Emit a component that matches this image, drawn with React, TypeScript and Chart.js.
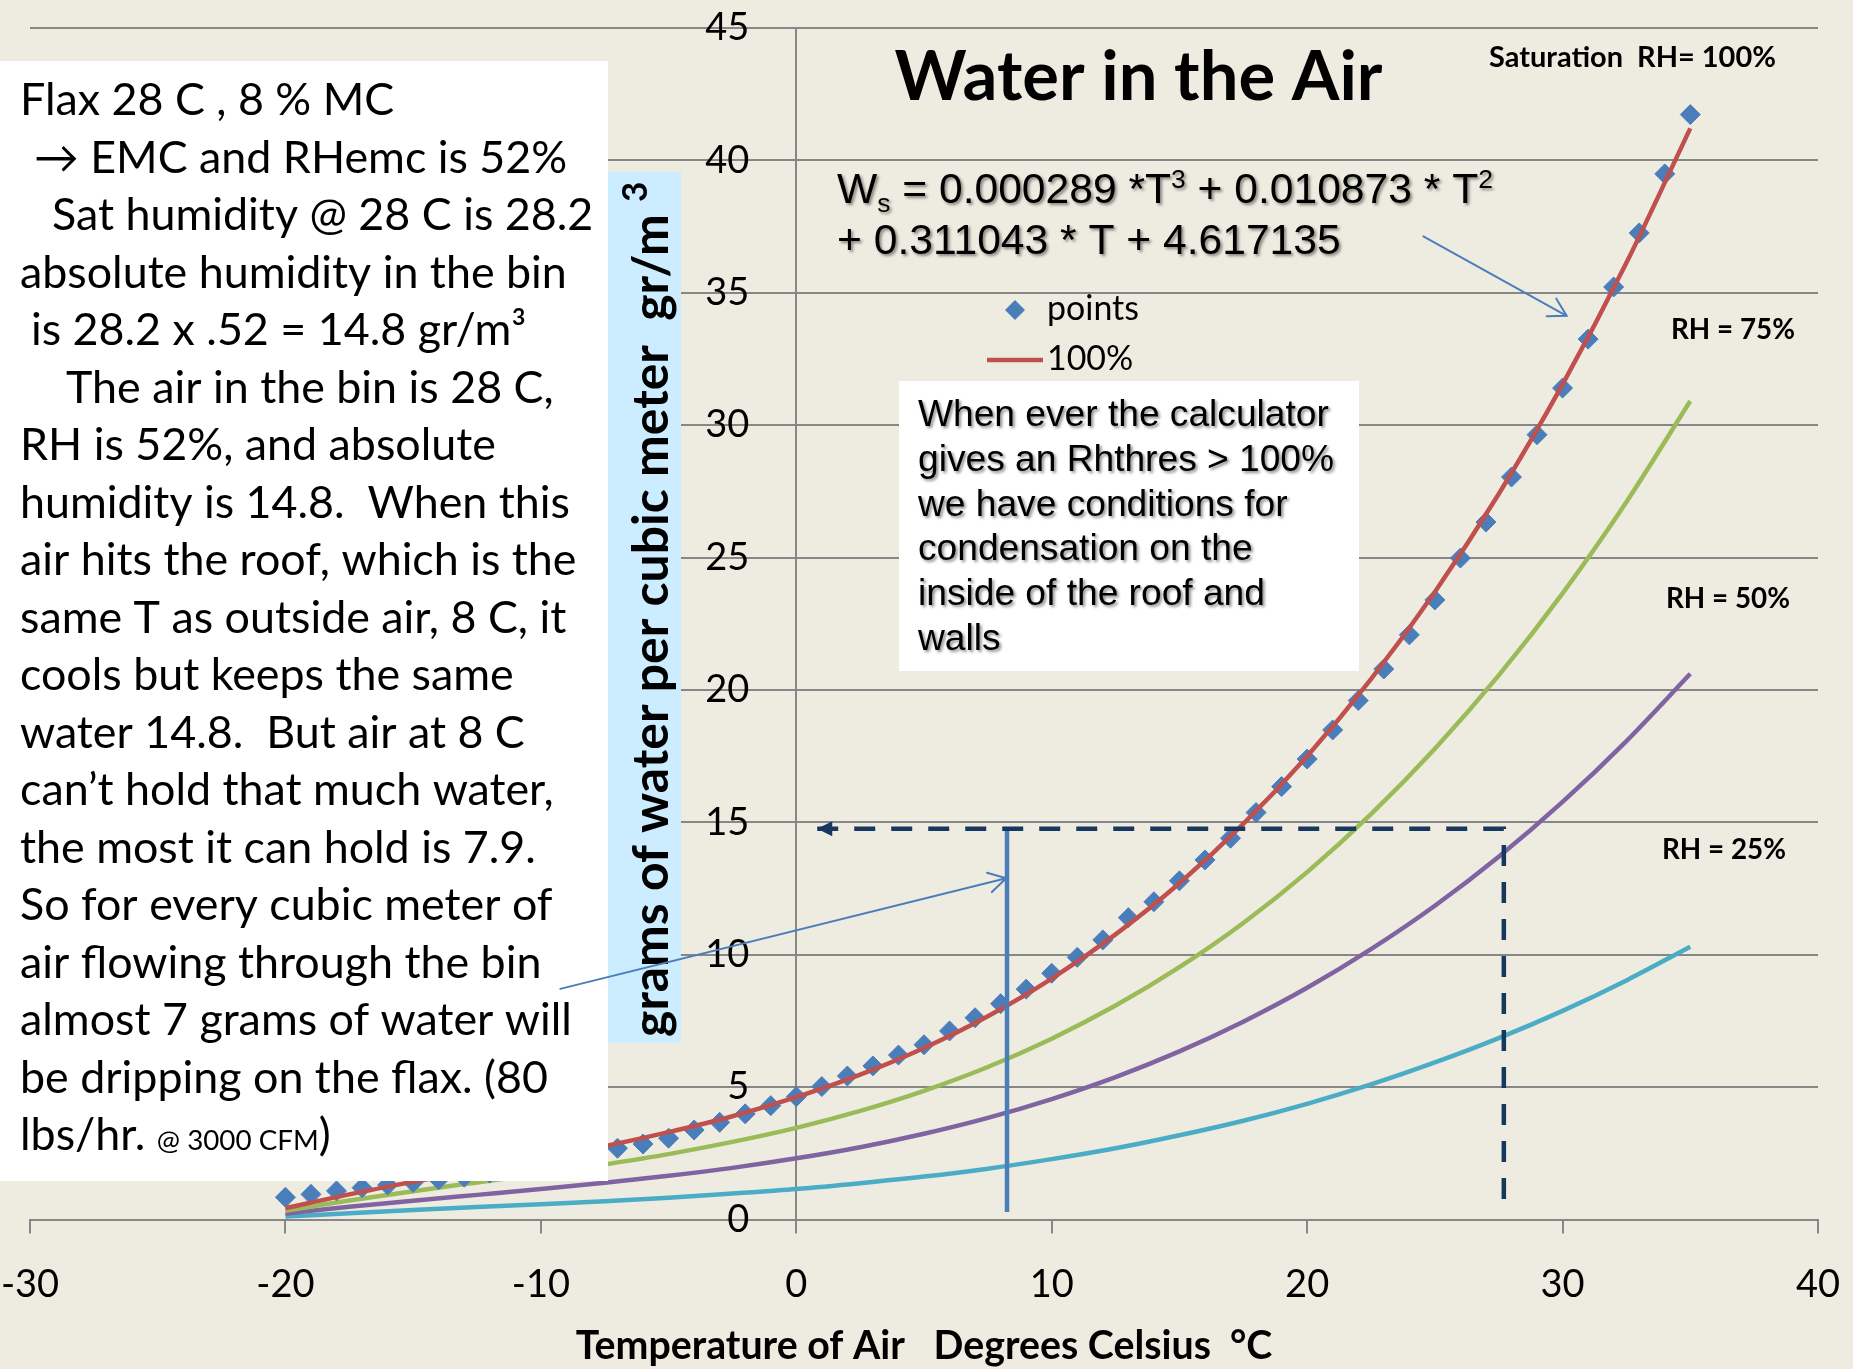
import React, { useEffect, useRef } from "react";
import { Chart, registerables } from "chart.js";

Chart.register(...registerables);

// ---------------- data ----------------
const pointTemps = [
  -20, -19, -18, -17, -16, -15, -14, -13, -12, -11, -10, -9, -8, -7, -6, -5, -4, -3, -2, -1,
  0, 1, 2, 3, 4, 5, 6, 7, 8, 9, 10, 11, 12, 13, 14, 15, 16, 17, 18, 19,
  20, 21, 22, 23, 24, 25, 26, 27, 28, 29, 30, 31, 32, 33, 34, 35,
];
const pointValues = [
  0.84, 0.95, 1.08, 1.2, 1.3, 1.4, 1.5, 1.6, 1.75, 1.9, 2.05, 2.25, 2.45, 2.69, 2.85, 3.07, 3.38, 3.67, 3.99, 4.3,
  4.64, 5.02, 5.42, 5.8, 6.21, 6.6, 7.12, 7.62, 8.15, 8.7, 9.3, 9.9, 10.56, 11.4, 12.0, 12.79, 13.58, 14.4, 15.37, 16.35,
  17.39, 18.49, 19.6, 20.79, 22.08, 23.4, 24.98, 26.34, 28.04, 29.64, 31.4, 33.25, 35.22, 37.26, 39.49, 41.73,
];

const curveTemps = [
  -20, -17.5, -15, -12.5, -10, -7.5, -5, -2.5, 0, 2.5, 5, 7.5, 10, 12.5, 15, 17.5, 20, 22.5, 25, 27.5, 30, 32.5, 35,
];
const rh100 = [
  0.43, 0.95, 1.42, 1.86, 2.31, 2.77, 3.3, 3.9, 4.62, 5.47, 6.48, 7.68, 9.1, 10.77, 12.7, 14.94, 17.5, 20.41, 23.7, 27.4, 31.54, 36.13, 41.21,
];
const rh75 = [
  0.33, 0.72, 1.07, 1.4, 1.73, 2.08, 2.47, 2.93, 3.46, 4.1, 4.86, 5.76, 6.83, 8.08, 9.53, 11.2, 13.12, 15.31, 17.78, 20.55, 23.65, 27.1, 30.91,
];
const rh50 = [
  0.22, 0.48, 0.71, 0.93, 1.15, 1.39, 1.65, 1.95, 2.31, 2.73, 3.24, 3.84, 4.55, 5.38, 6.35, 7.47, 8.75, 10.21, 11.85, 13.7, 15.77, 18.07, 20.61,
];
const rh25 = [
  0.11, 0.24, 0.36, 0.47, 0.58, 0.69, 0.82, 0.98, 1.15, 1.37, 1.62, 1.92, 2.28, 2.69, 3.18, 3.73, 4.37, 5.1, 5.93, 6.85, 7.88, 9.03, 10.3,
];

// x / y axis ranges and steps
const xRange = [-30, 40];
const xStep = 10;
const yRange = [0, 45];
const yStep = 5;

// reference lines (data coordinates)
const dropLineT = [8.25, 8.25];
const dropLineW = [14.76, 0.28];
const dashT = [0.82, 27.7, 27.7];
const dashW = [14.76, 14.76, 0.25];
const arrowNoteFrom = [-9.24, 8.71];
const arrowNoteTo = [8.22, 12.89];
const arrowEqFrom = [24.55, 37.13];
const arrowEqTo = [30.16, 34.13];

// texts
const titleText = "Water in the Air";
const satLabel = "Saturation  RH= 100%";
const rhLabels = ["RH = 75%", "RH = 50%", "RH = 25%"];
const legendLabels = ["points", "100%"];
const noteLines = [
  "Flax 28 C , 8 % MC",
  "\u2192 EMC and RHemc is 52%",
  "Sat humidity @ 28 C is 28.2",
  "absolute humidity in the bin",
  "is 28.2 x .52 = 14.8 gr/m\u00B3",
  "The air in the bin is 28 C,",
  "RH is 52%, and absolute",
  "humidity is 14.8.  When this",
  "air hits the roof, which is the",
  "same T as outside air, 8 C, it",
  "cools but keeps the same",
  "water 14.8.  But air at 8 C",
  "can\u2019t hold that much water,",
  "the most it can hold is 7.9.",
  "So for every cubic meter of",
  "air flowing through the bin",
  "almost 7 grams of water will",
  "be dripping on the flax. (80",
];
const noteTail = ["lbs/hr. ", "@ 3000 CFM", ")"];
const boxLines = [
  "When ever the calculator",
  "gives an Rhthres > 100%",
  "we have conditions for",
  "condensation on the",
  "inside of the roof and",
  "walls",
];
// [text, kind]: 0 normal, -1 subscript, 1 superscript
const eqLine1: [string, number][] = [
  ["W", 0],
  ["s", -1],
  [" = 0.000289 *T", 0],
  ["3", 1],
  [" + 0.010873 * T", 0],
  ["2", 1],
];
const eqLine2 = "+ 0.311043 * T + 4.617135";
const yTitle = "grams of water per cubic meter  gr/m";
const yTitleSup = "3";
const xTitle = "Temperature of Air   Degrees Celsius  \u00B0C";

// ---------------- styles ----------------
const BG = "#EEECE1";
const GRID = "#878787";
const BLUE = "#4A7EBB";
const RED = "#C0504D";
const GREEN = "#9BBB59";
const PURPLE = "#8064A2";
const AQUA = "#4BACC6";
const NAVY = "#17375E";
const noteIndent = [20, 34, 52, 20, 31, 66];
const TICK_FONT = "normal 38px Lato";

const zip = (xs: number[], ys: number[]) => xs.map((x, i) => ({ x, y: ys[i] }));

function fitSize(ctx: CanvasRenderingContext2D, text: string, target: number, weight: string, family: string) {
  ctx.font = `${weight} 100px ${family}`;
  return (100 * target) / ctx.measureText(text).width;
}

function openArrow(ctx: CanvasRenderingContext2D, x1: number, y1: number, x2: number, y2: number) {
  const a = Math.atan2(y2 - y1, x2 - x1);
  const L = 20;
  const s = Math.PI / 6;
  ctx.beginPath();
  ctx.moveTo(x1, y1);
  ctx.lineTo(x2, y2);
  ctx.moveTo(x2 - L * Math.cos(a - s), y2 - L * Math.sin(a - s));
  ctx.lineTo(x2, y2);
  ctx.lineTo(x2 - L * Math.cos(a + s), y2 - L * Math.sin(a + s));
  ctx.stroke();
}

const overlayPlugin = {
  id: "overlay",
  beforeDatasetsDraw(chart: any) {
    // y tick labels, taken from the y scale's own ticks, set off to the left of the axis at x = 0
    const ctx: CanvasRenderingContext2D = chart.ctx;
    const xs = chart.scales.x;
    const ys = chart.scales.y;
    const x0 = xs.getPixelForValue(0);
    ctx.save();
    ctx.font = TICK_FONT;
    ctx.fillStyle = "#000";
    ctx.textAlign = "right";
    ctx.textBaseline = "middle";
    for (const t of ys.ticks) {
      ctx.fillText(String(t.label), x0 - 47, ys.getPixelForValue(t.value));
    }
    ctx.restore();
  },
  afterDatasetsDraw(chart: any) {
    const ctx: CanvasRenderingContext2D = chart.ctx;
    const xs = chart.scales.x;
    const ys = chart.scales.y;
    const px = (t: number) => xs.getPixelForValue(t);
    const py = (w: number) => ys.getPixelForValue(w);
    ctx.save();
    ctx.textAlign = "left";
    ctx.textBaseline = "alphabetic";

    // ---- left note box ----
    ctx.fillStyle = "#FFFFFF";
    ctx.fillRect(0, 61, 608, 1120);
    const noteSize = fitSize(ctx, noteLines[3], 547, "normal", "Lato");
    ctx.fillStyle = "#000";
    ctx.font = `normal ${noteSize}px Lato`;
    noteLines.forEach((line, i) => {
      ctx.fillText(line, noteIndent[i] ?? 20, 115.2 + 57.5 * i);
    });
    {
      const yb = 115.2 + 57.5 * noteLines.length;
      let x = 20;
      ctx.font = `normal ${noteSize}px Lato`;
      ctx.fillText(noteTail[0], x, yb);
      x += ctx.measureText(noteTail[0]).width;
      ctx.font = `normal ${noteSize * 0.62}px Lato`;
      ctx.fillText(noteTail[1], x, yb);
      x += ctx.measureText(noteTail[1]).width;
      ctx.font = `normal ${noteSize}px Lato`;
      ctx.fillText(noteTail[2], x, yb);
    }

    // ---- y axis title box ----
    ctx.fillStyle = "#CCECFF";
    ctx.fillRect(608, 172, 73, 871);
    ctx.save();
    ctx.translate(668, 1037);
    ctx.rotate(-Math.PI / 2);
    const yts = fitSize(ctx, yTitle, 823, "bold", "Lato");
    ctx.font = `bold ${yts}px Lato`;
    ctx.fillStyle = "#000";
    ctx.fillText(yTitle, 0, 0);
    const wY = ctx.measureText(yTitle + " ").width;
    ctx.font = `bold ${yts * 0.7}px Lato`;
    ctx.fillText(yTitleSup, wY, -yts * 0.42);
    ctx.restore();

    // ---- "When ever" box ----
    ctx.fillStyle = "#FFFFFF";
    ctx.fillRect(899, 381, 460, 290);
    const boxSize = fitSize(ctx, boxLines[0], 411, "normal", '"Liberation Sans"');
    ctx.save();
    ctx.shadowColor = "rgba(0,0,0,0.45)";
    ctx.shadowOffsetX = 2;
    ctx.shadowOffsetY = 2;
    ctx.shadowBlur = 3;
    ctx.fillStyle = "#000";
    ctx.font = `normal ${boxSize}px "Liberation Sans"`;
    boxLines.forEach((line, i) => ctx.fillText(line, 918, 426.3 + 44.7 * i));

    // ---- equation ----
    const measureEq = (size: number) => {
      let w = 0;
      for (const [t, k] of eqLine1) {
        ctx.font = `normal ${k === 0 ? size : size * 0.62}px "Liberation Sans"`;
        w += ctx.measureText(t).width;
      }
      return w;
    };
    const eqSize = (100 * 656) / measureEq(100);
    let ex = 837;
    for (const [t, k] of eqLine1) {
      const s = k === 0 ? eqSize : eqSize * 0.62;
      ctx.font = `normal ${s}px "Liberation Sans"`;
      const dy = k === -1 ? eqSize * 0.2 : k === 1 ? -eqSize * 0.36 : 0;
      ctx.fillText(t, ex, 203 + dy);
      ex += ctx.measureText(t).width;
    }
    ctx.font = `normal ${eqSize}px "Liberation Sans"`;
    ctx.fillText(eqLine2, 837, 253.6);
    ctx.restore();

    // ---- title ----
    ctx.fillStyle = "#000";
    const tSize = fitSize(ctx, titleText, 488, "bold", "Lato");
    ctx.font = `bold ${tSize}px Lato`;
    ctx.fillText(titleText, 894.6, 100.4);

    // ---- RH labels ----
    const sSize = fitSize(ctx, satLabel, 287, "bold", "Lato");
    ctx.font = `bold ${sSize}px Lato`;
    ctx.fillText(satLabel, 1489, 67);
    const rSize = fitSize(ctx, rhLabels[0], 124, "bold", "Lato");
    ctx.font = `bold ${rSize}px Lato`;
    ctx.fillText(rhLabels[0], 1671, 339);
    ctx.fillText(rhLabels[1], 1666, 608);
    ctx.fillText(rhLabels[2], 1662, 859);

    // ---- legend ----
    const ds0 = chart.data.datasets[0];
    const ds1 = chart.data.datasets[1];
    ctx.fillStyle = ds0.backgroundColor;
    ctx.beginPath();
    ctx.moveTo(1015 - 10, 310);
    ctx.lineTo(1015, 300);
    ctx.lineTo(1015 + 10, 310);
    ctx.lineTo(1015, 320);
    ctx.closePath();
    ctx.fill();
    ctx.strokeStyle = ds1.borderColor;
    ctx.lineWidth = 4.5;
    ctx.beginPath();
    ctx.moveTo(987, 360);
    ctx.lineTo(1043, 360);
    ctx.stroke();
    const lSize = fitSize(ctx, legendLabels[0], 92, "normal", "Lato");
    ctx.font = `normal ${lSize}px Lato`;
    ctx.fillStyle = "#000";
    ctx.fillText(legendLabels[0], 1047, 320);
    ctx.fillText(legendLabels[1], 1047, 370);

    // ---- arrows ----
    ctx.strokeStyle = BLUE;
    ctx.lineWidth = 2;
    ctx.lineCap = "round";
    openArrow(ctx, px(arrowNoteFrom[0]), py(arrowNoteFrom[1]), px(arrowNoteTo[0]), py(arrowNoteTo[1]));
    openArrow(ctx, px(arrowEqFrom[0]), py(arrowEqFrom[1]), px(arrowEqTo[0]), py(arrowEqTo[1]));

    // dashed line arrowhead
    const tx = px(dashT[0]);
    const ty = py(dashW[0]);
    ctx.fillStyle = NAVY;
    ctx.beginPath();
    ctx.moveTo(tx, ty);
    ctx.lineTo(tx + 15, ty - 7.5);
    ctx.lineTo(tx + 15, ty + 7.5);
    ctx.closePath();
    ctx.fill();

    ctx.restore();
  },
};

export default function App() {
  const ref = useRef<HTMLCanvasElement>(null);

  useEffect(() => {
    const canvas = ref.current;
    if (!canvas) return;
    const mctx = document.createElement("canvas").getContext("2d") as CanvasRenderingContext2D;
    const xTitleSize = fitSize(mctx, xTitle, 697, "bold", "Lato");

    const chart = new Chart(canvas, {
      type: "scatter",
      data: {
        datasets: [
          {
            label: legendLabels[0],
            data: zip(pointTemps, pointValues),
            showLine: false,
            pointStyle: "rectRot",
            pointRadius: 10,
            pointBorderWidth: 1,
            backgroundColor: BLUE,
            borderColor: BLUE,
            order: 3,
          },
          {
            label: legendLabels[1],
            data: zip(curveTemps, rh100),
            showLine: true,
            pointRadius: 0,
            borderColor: RED,
            backgroundColor: RED,
            borderWidth: 4.5,
            cubicInterpolationMode: "monotone",
            order: 2,
          },
          {
            label: "75%",
            data: zip(curveTemps, rh75),
            showLine: true,
            pointRadius: 0,
            borderColor: GREEN,
            borderWidth: 4.5,
            cubicInterpolationMode: "monotone",
            order: 4,
          },
          {
            label: "50%",
            data: zip(curveTemps, rh50),
            showLine: true,
            pointRadius: 0,
            borderColor: PURPLE,
            borderWidth: 4.5,
            cubicInterpolationMode: "monotone",
            order: 5,
          },
          {
            label: "25%",
            data: zip(curveTemps, rh25),
            showLine: true,
            pointRadius: 0,
            borderColor: AQUA,
            borderWidth: 4.5,
            cubicInterpolationMode: "monotone",
            order: 6,
          },
          {
            label: "8 C",
            data: zip(dropLineT, dropLineW),
            showLine: true,
            pointRadius: 0,
            borderColor: BLUE,
            borderWidth: 4.5,
            order: 1,
          },
          {
            label: "14.8",
            data: zip(dashT, dashW),
            showLine: true,
            pointRadius: 0,
            borderColor: NAVY,
            borderWidth: 4.5,
            borderDash: [21, 16],
            order: 0,
          },
        ],
      },
      options: {
        responsive: false,
        maintainAspectRatio: false,
        animation: false,
        devicePixelRatio: 1,
        layout: { padding: { left: 30, right: 35, top: 28, bottom: 0 } },
        plugins: {
          legend: { display: false },
          tooltip: { enabled: false },
        },
        events: [],
        scales: {
          x: {
            type: "linear",
            position: "bottom",
            min: xRange[0],
            max: xRange[1],
            ticks: {
              stepSize: xStep,
              autoSkip: false,
              maxRotation: 0,
              color: "#000",
              padding: 28,
              font: { family: "Lato", size: 38 },
            },
            grid: {
              display: true,
              drawOnChartArea: false,
              drawTicks: true,
              tickLength: 14,
              color: GRID,
              lineWidth: 2,
            },
            border: { display: true, color: GRID, width: 2 },
            title: {
              display: true,
              text: xTitle,
              color: "#000",
              font: { family: "Lato", weight: "bold", size: xTitleSize, lineHeight: 1.15 },
              padding: { top: 0, bottom: 0 },
            },
            afterFit: (s: any) => {
              s.height = 149.5;
              s.paddingLeft = 0;
              s.paddingRight = 0;
            },
          },
          y: {
            type: "linear",
            position: { x: 0 },
            min: yRange[0],
            max: yRange[1],
            ticks: {
              stepSize: yStep,
              display: false,
              font: { family: "Lato", size: 38 },
            },
            grid: { color: GRID, lineWidth: 2, drawTicks: false },
            border: { display: true, color: GRID, width: 2 },
            afterFit: (s: any) => {
              s.paddingTop = 0;
              s.paddingBottom = 0;
            },
          },
        },
      } as any,
      plugins: [overlayPlugin],
    });
    return () => chart.destroy();
  }, []);

  return (
    <div
      style={{
        position: "absolute",
        left: 0,
        top: 0,
        width: 1853,
        height: 1369,
        background: BG,
        overflow: "hidden",
      }}
    >
      <canvas ref={ref} width={1853} height={1369} style={{ display: "block", width: 1853, height: 1369 }} />
    </div>
  );
}
